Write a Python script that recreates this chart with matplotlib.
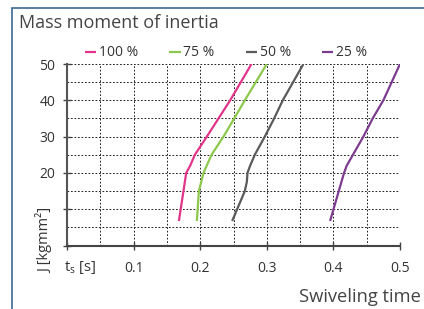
import matplotlib.pyplot as plt
from matplotlib.patches import Rectangle

# swiveling time [s] vs mass moment of inertia [kgmm^2]
j_100 = [6.75, 20, 22, 25, 30, 40, 50]
t_100 = [0.168, 0.179, 0.185, 0.192, 0.210, 0.245, 0.277]

j_75 = [6.75, 15, 20, 25, 30, 35, 40, 50]
t_75 = [0.195, 0.198, 0.205, 0.217, 0.235, 0.251, 0.267, 0.300]

j_50 = [6.75, 15, 17.5, 20, 22, 25, 30, 35, 40, 50]
t_50 = [0.248, 0.267, 0.270, 0.271, 0.275, 0.282, 0.297, 0.311, 0.324, 0.355]

j_25 = [6.75, 20, 22, 30, 35, 40, 50]
t_25 = [0.395, 0.416, 0.420, 0.445, 0.459, 0.475, 0.500]

labels = ['100 %', '75 %', '50 %', '25 %']
colors = ['#e2358a', '#8cc84b', '#5a5a5a', '#7d3b8f']

plt.rcParams['font.family'] = ['Open Sans', 'DejaVu Sans']

fig = plt.figure(figsize=(4.24, 3.09), dpi=100)
W, H = 424, 309
ax = fig.add_axes([67 / W, 1 - 245.5 / H, 333 / W, 181.5 / H])

for t, j, c, l in zip([t_100, t_75, t_50, t_25], [j_100, j_75, j_50, j_25], colors, labels):
    ax.plot(t, j, color=c, lw=1.6, label=l, solid_capstyle='butt')

ax.set_xlim(0, 0.5)
ax.set_ylim(0, 50)
ax.set_xticks([0, 0.1, 0.2, 0.3, 0.4, 0.5])
ax.set_xticklabels(['', '0.1', '0.2', '0.3', '0.4', '0.5'])
ax.set_yticks([0, 10, 20, 30, 40, 50])
ax.set_yticklabels(['', '', '20', '30', '40', '50'])
ax.set_xticks([0.05 * i for i in range(1, 10)], minor=True)
ax.set_yticks([5, 15, 25, 35, 45], minor=True)
ax.grid(True, which='both', color='#222222', ls=(0, (1.8, 1.8)), lw=0.7)
ax.tick_params(which='major', direction='inout', length=6, width=1, color='#444444',
               labelsize=10, labelcolor='#333333')
ax.tick_params(axis='x', pad=8.5)
ax.tick_params(axis='y', pad=5.5)
ax.tick_params(which='minor', length=0)
for s in ['top', 'right']:
    ax.spines[s].set_visible(False)
ax.spines['left'].set_color('#555555')
ax.spines['left'].set_linewidth(1.5)
ax.spines['bottom'].set_color('#444444')
ax.spines['bottom'].set_linewidth(1.5)

leg = fig.legend(loc='center left', bbox_to_anchor=(85 / W, 1 - 53 / H), ncol=4,
                 frameon=False, fontsize=10, handlelength=0.8, handletextpad=0.2,
                 columnspacing=2.25, borderaxespad=0, borderpad=0)
for t in leg.get_texts():
    t.set_color('#333333')

fig.text(19 / W, 1 - 23 / H, 'Mass moment of inertia', fontsize=13, color='#444444',
         va='center', ha='left')
fig.text(45 / W, 1 - 240 / H, 'J [kgmm²]', rotation=90, fontsize=10.5, color='#333333',
         va='center', ha='center')
fig.text(64 / W, 1 - 268 / H, r't$_\mathregular{s}$ [s]', fontsize=10.5, color='#333333',
         va='center', ha='left')
fig.text(299 / W, 1 - 297 / H, 'Swiveling time', fontsize=13.2, color='#444444',
         va='center', ha='left')

fig.patches.append(Rectangle((12 / W, -0.1), 1.2, 1 - 8 / H + 0.1, transform=fig.transFigure,
                             fill=False, edgecolor='#3b6a94', lw=1.2))

fig.savefig('out.png', dpi=100)
